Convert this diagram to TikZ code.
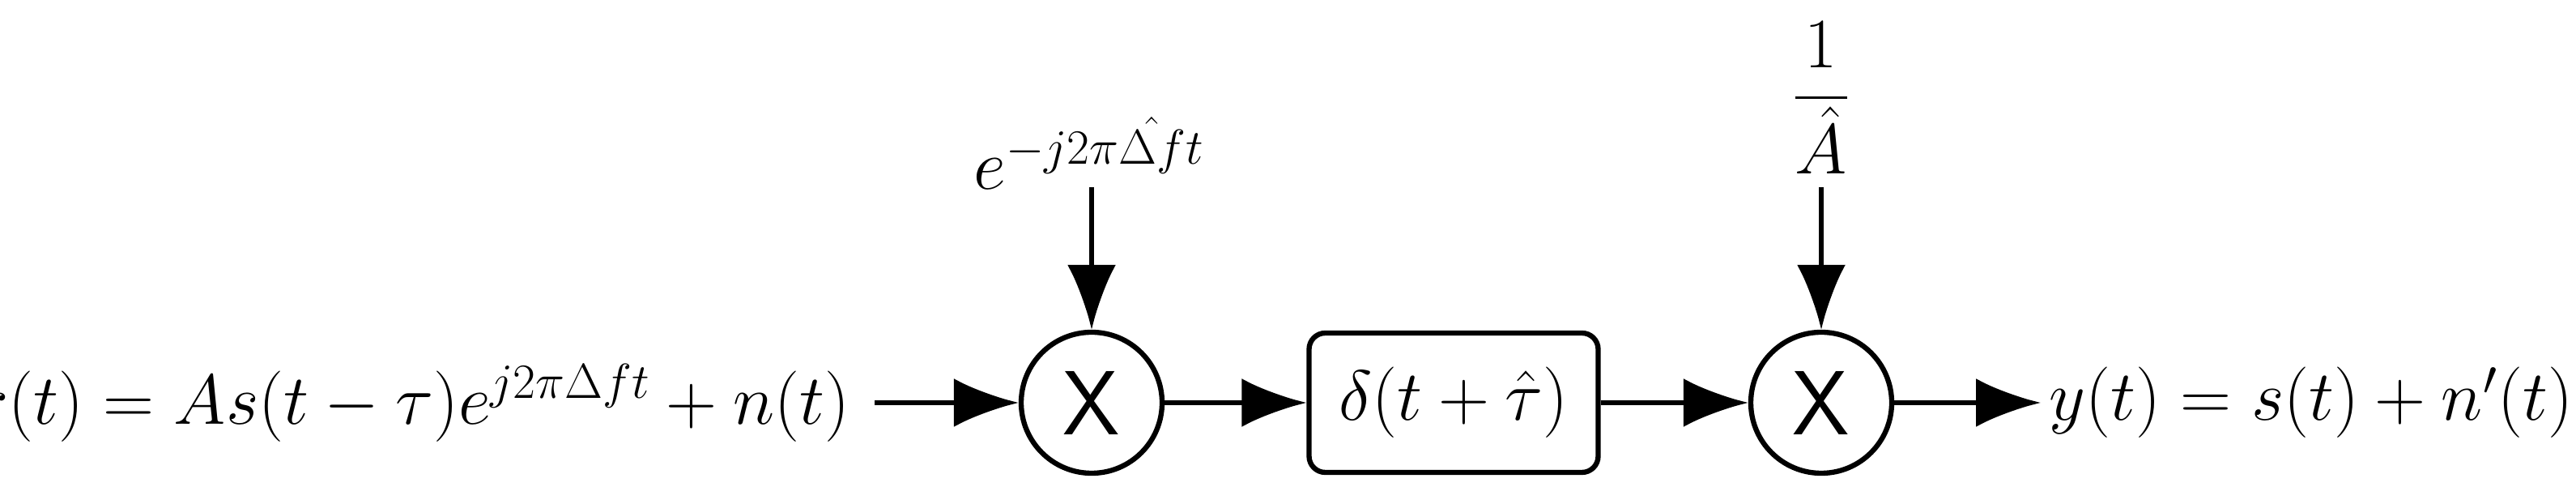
\documentclass[tikz,border=0pt]{standalone}
\usepackage{amsmath}
\usepackage{amssymb}
\usepackage{tikz}
\usetikzlibrary{shapes,arrows.meta,positioning,calc}

\begin{document}
\begin{tikzpicture}[
        font=\fontsize{23}{28}\selectfont,
        mixer/.style={circle, draw, line width=1.8pt, minimum size=1.74cm, inner sep=0pt, font=\fontsize{32}{36}\selectfont\sffamily},
        block/.style={rectangle, rounded corners=0.2cm, draw, line width=1.8pt, minimum width=3.57cm, minimum height=1.72cm, align=center},
        arrow/.style={-{Latex[length=0.8cm,width=0.6cm]}, line width=1.8pt}
    ]
        \useasboundingbox (0,0) rectangle (31.81,6.01);

        \node[anchor=east, inner sep=0pt] (in) at (10.5,1.04) {$r(t) = As(t-\tau)e^{j2\pi\Delta ft} + n(t)$};
        \node[mixer] (m1) at (13.48,1.04) {X};
        \node[block] (d) at (17.95,1.04) {$\delta(t+\hat{\tau})$};
        \node[mixer] (m2) at (22.49,1.04) {X};
        \node[anchor=west, inner sep=0pt] (out) at (25.3,1.04) {$y(t) = s(t) + n'(t)$};

        \node[inner sep=0pt] (osc) at (13.45,4.12) {$e^{-j2\pi\hat{\Delta f}t}$};
        \node[inner sep=0pt] (gain) at (22.49,4.8) {$\dfrac{1}{\hat{A}}$};
        \coordinate (osc-end) at (13.48,3.7);
        \coordinate (gain-end) at (22.49,3.7);

        \draw[arrow] (in.east) ++(0.3,0) -- (m1);
        \draw[arrow] (m1) -- (d);
        \draw[arrow] (d) -- (m2);
        \draw[arrow] (m2) -- ([xshift=-0.1cm]out.west);
        \draw[arrow] (osc-end) -- (m1);
        \draw[arrow] (gain-end) -- (m2);
    \end{tikzpicture}
\end{document}
